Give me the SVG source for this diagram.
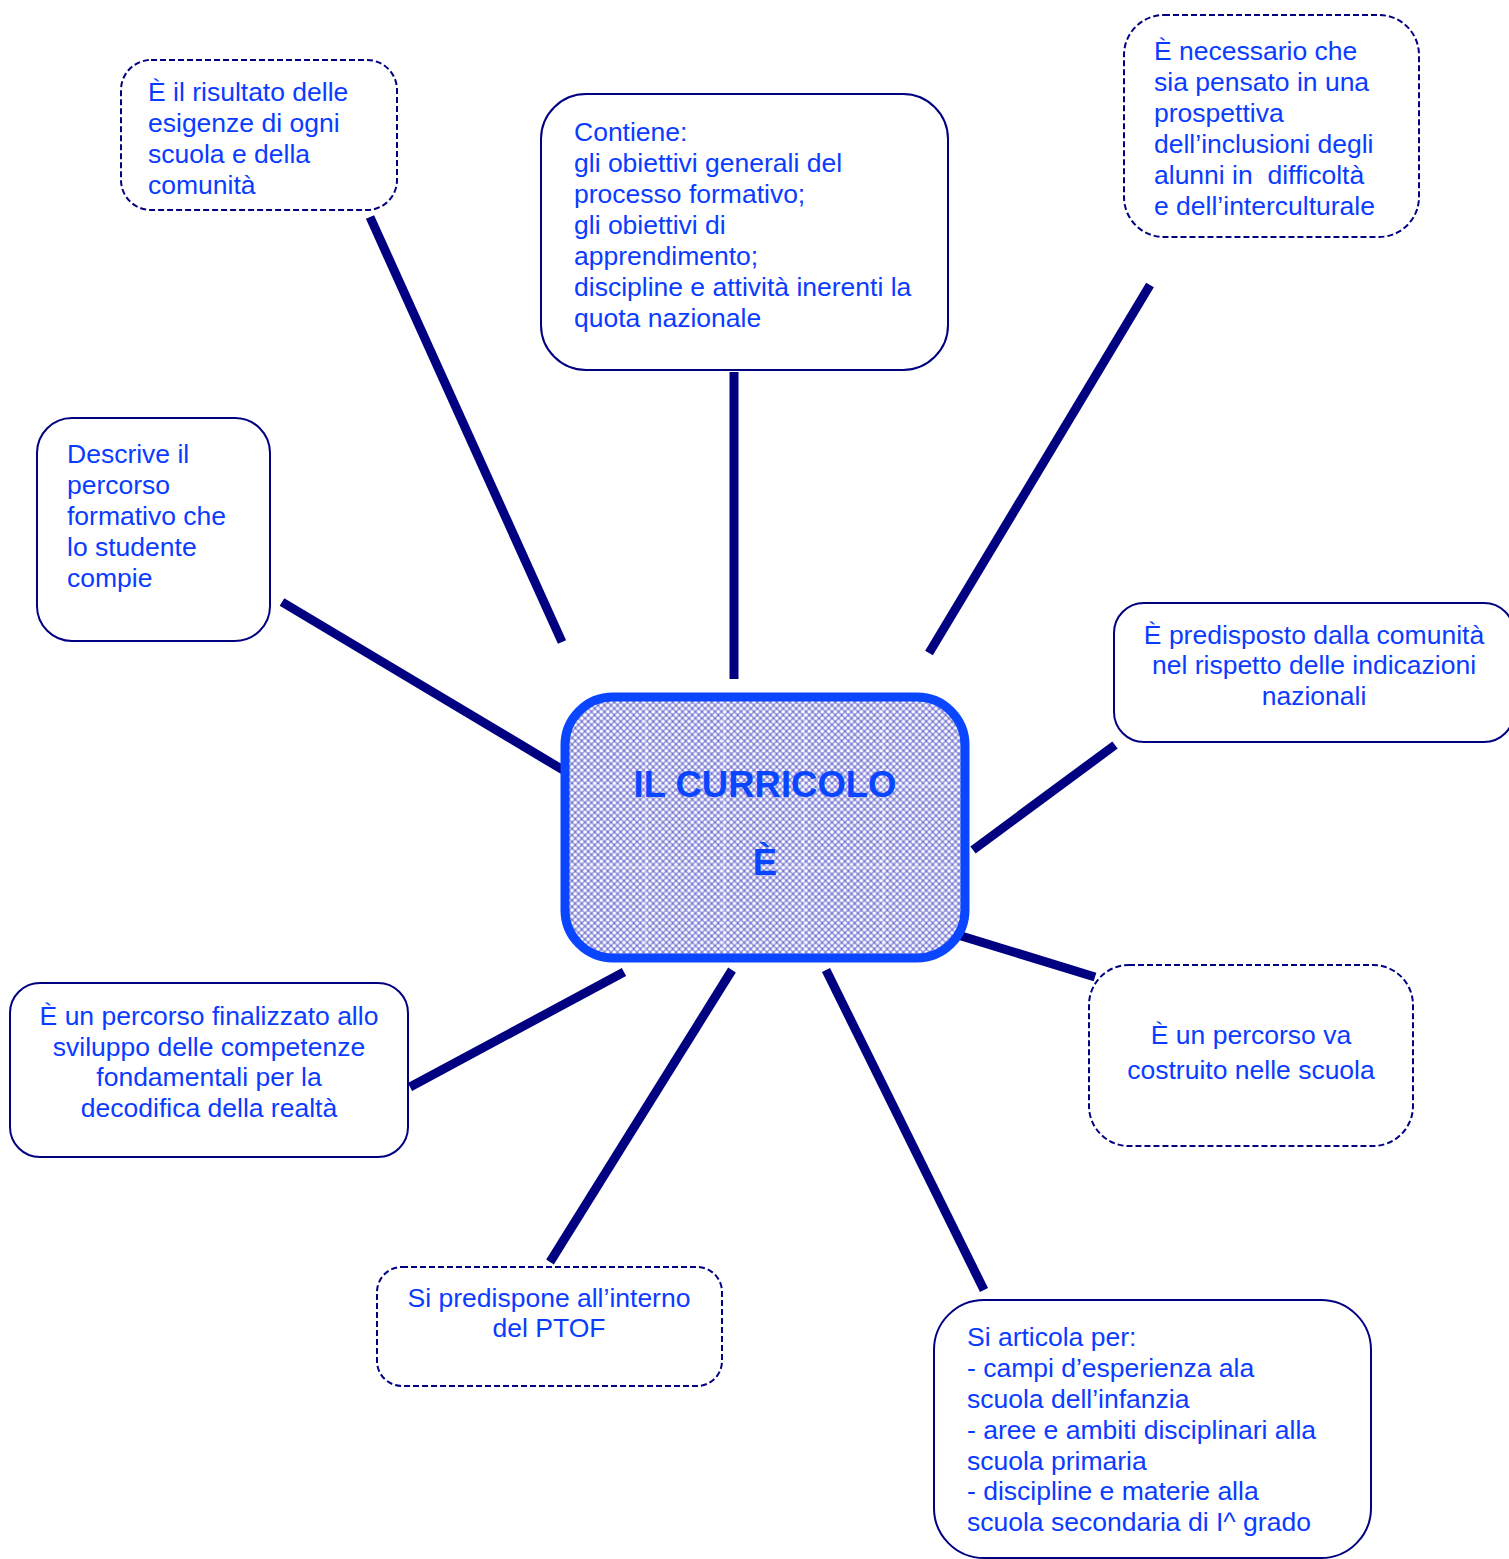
<svg xmlns="http://www.w3.org/2000/svg" width="1509" height="1559" viewBox="0 0 1509 1559">
<defs>
<style>
.box{fill:#ffffff;stroke:#000080;stroke-width:2}
.dash{stroke-dasharray:6 3}
.t{font-family:"Liberation Sans",Arial,sans-serif;font-size:26.5px;fill:#0a3cff;white-space:pre}
.c{text-anchor:middle}
.conn{stroke:#000080;stroke-width:9;fill:none}
.title{font-family:"Liberation Sans",Arial,sans-serif;font-size:36.5px;font-weight:bold;fill:#0a46ff;text-anchor:middle}
</style>
<pattern id="lat" width="6.5" height="6.5" patternUnits="userSpaceOnUse">
<rect width="6.5" height="6.5" fill="#4040ae"/>
<g fill="#9c9ce2">
<circle cx="0" cy="0" r="2.8"/>
<circle cx="6.5" cy="0" r="2.8"/>
<circle cx="0" cy="6.5" r="2.8"/>
<circle cx="6.5" cy="6.5" r="2.8"/>
<circle cx="3.25" cy="3.25" r="2.8"/>
</g>
<g fill="#ffffff">
<circle cx="0" cy="0" r="1.7"/>
<circle cx="6.5" cy="0" r="1.7"/>
<circle cx="0" cy="6.5" r="1.7"/>
<circle cx="6.5" cy="6.5" r="1.7"/>
<circle cx="3.25" cy="3.25" r="1.7"/>
</g>
</pattern>
</defs>
<rect width="1509" height="1559" fill="#ffffff"/>

<g id="connectors">
<line class="conn" x1="370" y1="217" x2="562" y2="642"/>
<line class="conn" x1="734" y1="372" x2="734" y2="679"/>
<line class="conn" x1="1150" y1="285" x2="929" y2="653"/>
<line class="conn" x1="282" y1="602" x2="563" y2="770"/>
<line class="conn" x1="1115" y1="745" x2="973" y2="850"/>
<line class="conn" x1="958" y1="935" x2="1095" y2="977"/>
<line class="conn" x1="624" y1="972" x2="410" y2="1087"/>
<line class="conn" x1="732" y1="970" x2="550" y2="1262"/>
<line class="conn" x1="826" y1="970" x2="984" y2="1290"/>
</g>

<g id="center">
<rect x="565" y="697" width="400" height="261" rx="48" fill="url(#lat)"/>
<g stroke="#ffffff" stroke-width="1.2" opacity="0.5">
<line x1="646" y1="700" x2="646" y2="955"/>
<line x1="724" y1="700" x2="724" y2="955"/>
<line x1="804" y1="700" x2="804" y2="955"/>
<line x1="883" y1="700" x2="883" y2="955"/>
<line x1="568" y1="785" x2="962" y2="785"/>
<line x1="568" y1="867" x2="962" y2="867"/>
</g>
<rect x="565" y="697" width="400" height="261" rx="48" fill="none" stroke="#0a46ff" stroke-width="9"/>
<text class="title" x="765" y="797">IL CURRICOLO</text>
<text class="title" x="765" y="875">È</text>
</g>

<g id="node-risultato">
<rect class="box dash" x="121" y="60" width="276" height="150" rx="30"/>
<text class="t" x="148" y="101">È il risultato delle</text>
<text class="t" x="148" y="132">esigenze di ogni</text>
<text class="t" x="148" y="163">scuola e della</text>
<text class="t" x="148" y="194">comunità</text>
</g>

<g id="node-contiene">
<rect class="box" x="541" y="94" width="407" height="276" rx="45"/>
<text class="t" x="574" y="141">Contiene:</text>
<text class="t" x="574" y="172">gli obiettivi generali del</text>
<text class="t" x="574" y="203">processo formativo;</text>
<text class="t" x="574" y="234">gli obiettivi di</text>
<text class="t" x="574" y="265">apprendimento;</text>
<text class="t" x="574" y="296">discipline e attività inerenti la</text>
<text class="t" x="574" y="327">quota nazionale</text>
</g>

<g id="node-necessario">
<rect class="box dash" x="1124" y="15" width="295" height="222" rx="40"/>
<text class="t" x="1154" y="60">È necessario che</text>
<text class="t" x="1154" y="91">sia pensato in una</text>
<text class="t" x="1154" y="122">prospettiva</text>
<text class="t" x="1154" y="153">dell’inclusioni degli</text>
<text class="t" x="1154" y="184">alunni in  difficoltà</text>
<text class="t" x="1154" y="215">e dell’interculturale</text>
</g>

<g id="node-descrive">
<rect class="box" x="37" y="418" width="233" height="223" rx="35"/>
<text class="t" x="67" y="463">Descrive il</text>
<text class="t" x="67" y="494">percorso</text>
<text class="t" x="67" y="525">formativo che</text>
<text class="t" x="67" y="556">lo studente</text>
<text class="t" x="67" y="587">compie</text>
</g>

<g id="node-predisposto">
<rect class="box" x="1114" y="603" width="400" height="139" rx="30"/>
<text class="t c" x="1314" y="644">È predisposto dalla comunità</text>
<text class="t c" x="1314" y="674">nel rispetto delle indicazioni</text>
<text class="t c" x="1314" y="705">nazionali</text>
</g>

<g id="node-costruito">
<rect class="box dash" x="1089" y="965" width="324" height="181" rx="40"/>
<text class="t c" x="1251" y="1044">È un percorso va</text>
<text class="t c" x="1251" y="1079">costruito nelle scuola</text>
</g>

<g id="node-finalizzato">
<rect class="box" x="10" y="983" width="398" height="174" rx="30"/>
<text class="t c" x="209" y="1025">È un percorso finalizzato allo</text>
<text class="t c" x="209" y="1056">sviluppo delle competenze</text>
<text class="t c" x="209" y="1086">fondamentali per la</text>
<text class="t c" x="209" y="1117">decodifica della realtà</text>
</g>

<g id="node-ptof">
<rect class="box dash" x="377" y="1267" width="345" height="119" rx="25"/>
<text class="t c" x="549" y="1307">Si predispone all’interno</text>
<text class="t c" x="549" y="1337">del PTOF</text>
</g>

<g id="node-articola">
<rect class="box" x="934" y="1300" width="437" height="258" rx="50"/>
<text class="t" x="967" y="1346">Si articola per:</text>
<text class="t" x="967" y="1377">- campi d’esperienza ala</text>
<text class="t" x="967" y="1408">scuola dell’infanzia</text>
<text class="t" x="967" y="1439">- aree e ambiti disciplinari alla</text>
<text class="t" x="967" y="1470">scuola primaria</text>
<text class="t" x="967" y="1500">- discipline e materie alla</text>
<text class="t" x="967" y="1531">scuola secondaria di I^ grado</text>
</g>
</svg>
